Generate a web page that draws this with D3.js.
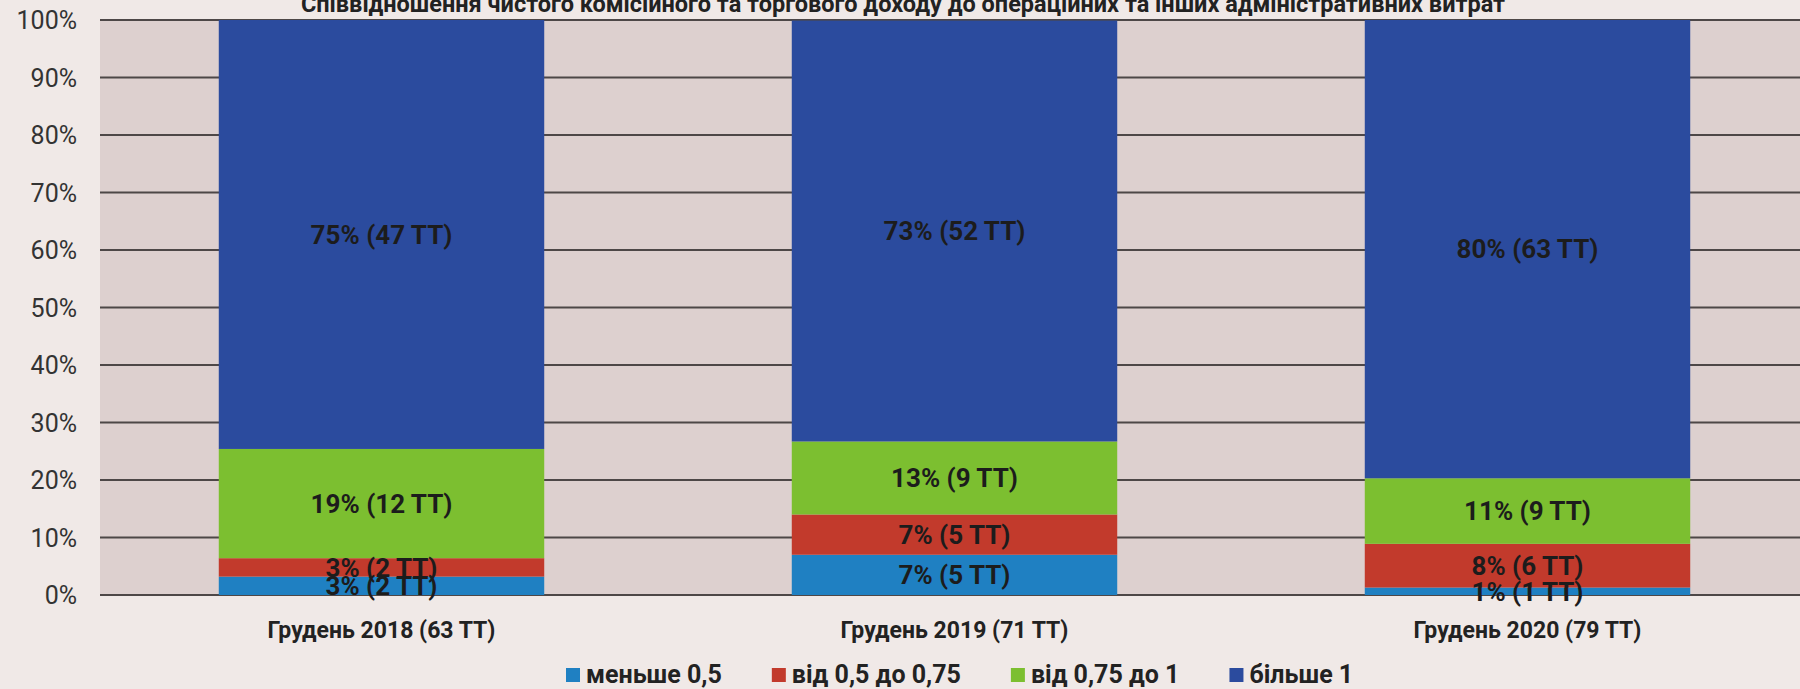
<!DOCTYPE html>
<html>
<head>
<meta charset="utf-8">
<script src="https://cdn.jsdelivr.net/npm/d3@7"></script>
<style>
  html, body { margin:0; padding:0; background:#f0e9e7; }
  svg { display:block; font-family: Roboto, "Noto Sans", sans-serif; }
</style>
</head>
<body>
<svg id="chart" width="1800" height="689"></svg>
<script>
(function(){

const WIDTH = 1800, HEIGHT = 689;

const title = 'Співвідношення чистого комісійного та торгового доходу до операційних та інших адміністративних витрат';
const categories = ['Грудень 2018 (63 ТТ)', 'Грудень 2019 (71 ТТ)', 'Грудень 2020 (79 ТТ)'];
const seriesNames = ['меньше 0,5', 'від 0,5 до 0,75', 'від 0,75 до 1', 'більше 1'];
const seriesColors = ['#1f80c2', '#c23a2c', '#7cbf30', '#2b4b9e'];

// shares, % of banks in each group
const lessHalf   = [3.2, 7.0, 1.3];
const halfTo075  = [3.2, 7.0, 7.6];
const from075To1 = [19.0, 12.7, 11.4];
const moreOne    = [74.6, 73.2, 79.7];

// number of banks (ТТ) in each group
const lessHalfN   = [2, 5, 1];
const halfTo075N  = [2, 5, 6];
const from075To1N = [12, 9, 9];
const moreOneN    = [47, 52, 63];

const yTicks = [0, 10, 20, 30, 40, 50, 60, 70, 80, 90, 100];

const values = [lessHalf, halfTo075, from075To1, moreOne];
const counts = [lessHalfN, halfTo075N, from075To1N, moreOneN];

const rows = categories.map((c, i) => {
  const r = {cat: c};
  seriesNames.forEach((s, j) => { r[s] = values[j][i]; });
  return r;
});
const stacked = d3.stack().keys(seriesNames)(rows);

const plot = {left: 95, top: 20, bottom: 595};

const x = d3.scaleBand()
  .domain(categories)
  .range([plot.left, plot.left + 3*573])
  .paddingInner(0.432)
  .paddingOuter(0.216);

const y = d3.scaleLinear().domain([0, 100]).range([plot.bottom, plot.top]);

const svg = d3.select('#chart');

// plot background
svg.append('rect')
  .attr('x', 100).attr('y', plot.top)
  .attr('width', WIDTH - 100).attr('height', plot.bottom - plot.top)
  .attr('fill', '#ddd0cf');

// gridlines
svg.append('g')
  .selectAll('line')
  .data(yTicks)
  .join('line')
  .attr('x1', 100).attr('x2', WIDTH)
  .attr('y1', d => y(d)).attr('y2', d => y(d))
  .attr('stroke', '#4d4747').attr('stroke-width', 2);

// y tick labels
svg.append('g')
  .selectAll('text')
  .data(yTicks)
  .join('text')
  .attr('x', 77).attr('y', d => y(d))
  .attr('dy', '0.36em')
  .attr('text-anchor', 'end')
  .attr('font-size', 25)
  .attr('fill', '#333')
  .text(d => d + '%');

// bars
const layers = svg.append('g')
  .selectAll('g')
  .data(stacked)
  .join('g')
  .attr('fill', (d, i) => seriesColors[i]);

layers.selectAll('rect')
  .data(d => d)
  .join('rect')
  .attr('x', d => x(d.data.cat))
  .attr('width', x.bandwidth())
  .attr('y', d => y(d[1]))
  .attr('height', d => y(d[0]) - y(d[1]));

// segment labels
stacked.forEach((layer, j) => {
  svg.append('g')
    .selectAll('text')
    .data(layer)
    .join('text')
    .attr('x', d => x(d.data.cat) + x.bandwidth()/2)
    .attr('y', d => y((d[0] + d[1]) / 2))
    .attr('dy', '0.36em')
    .attr('text-anchor', 'middle')
    .attr('font-size', 26)
    .attr('font-weight', 700)
    .attr('fill', '#1c1c1c')
    .text((d, i) => Math.round(values[j][i]) + '% (' + counts[j][i] + ' ТТ)');
});

// category labels
svg.append('g')
  .selectAll('text')
  .data(categories)
  .join('text')
  .attr('x', d => x(d) + x.bandwidth()/2)
  .attr('y', 638)
  .attr('text-anchor', 'middle')
  .attr('font-size', 23)
  .attr('font-weight', 700)
  .attr('fill', '#222')
  .text(d => d);

// title (cut at the top in the scan)
svg.append('text')
  .attr('x', 903).attr('y', 12)
  .attr('text-anchor', 'middle')
  .attr('font-size', 23.5)
  .attr('font-weight', 700)
  .attr('fill', '#222')
  .text(title);

// legend
const legend = svg.append('g');
let lx = 566;
seriesNames.forEach((s, i) => {
  legend.append('rect')
    .attr('x', lx).attr('y', 668)
    .attr('width', 14).attr('height', 14)
    .attr('fill', seriesColors[i]);
  const t = legend.append('text')
    .attr('x', lx + 20).attr('y', 683)
    .attr('font-size', 25)
    .attr('font-weight', 700)
    .attr('fill', '#222')
    .text(s);
  lx += 20 + t.node().getComputedTextLength() + 50;
});

})();
</script>
</body>
</html>
